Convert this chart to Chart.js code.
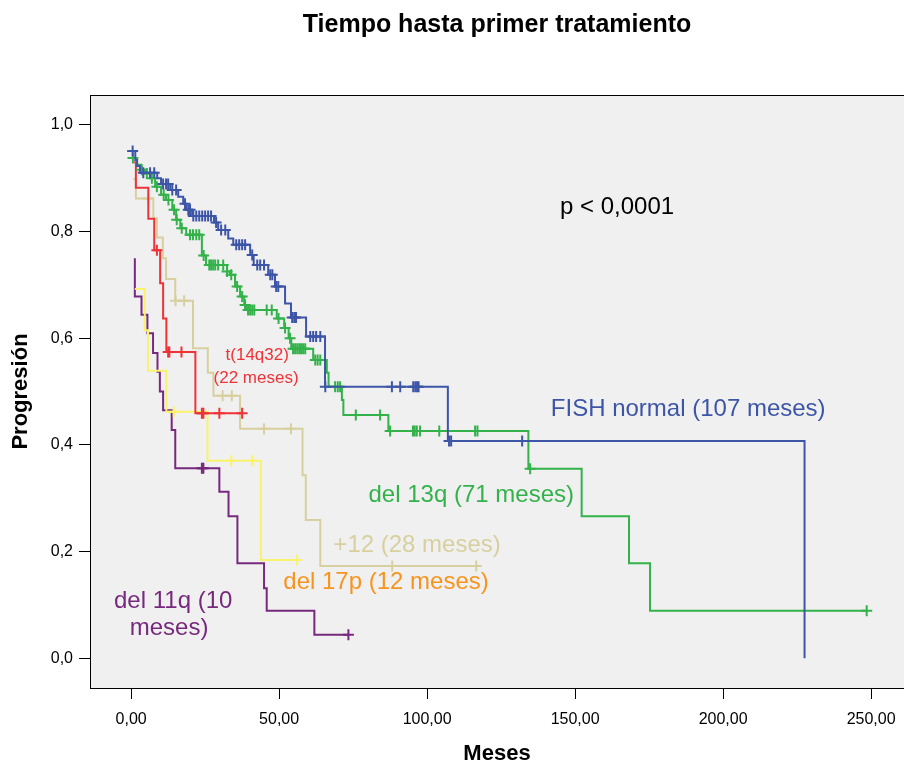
<!DOCTYPE html>
<html>
<head>
<meta charset="utf-8">
<style>
  html, body { margin: 0; padding: 0; background: #fff; }
  #wrap { width: 904px; height: 762px; }
</style>
<script src="https://cdn.jsdelivr.net/npm/chart.js@4/dist/chart.umd.min.js"></script>
</head>
<body>
<div id="wrap"><canvas id="km" width="904" height="762"></canvas></div>
<script>
// Kaplan-Meier curves (time in months, cumulative proportion)
const fishT = [0.5, 1.4, 2.0, 3.0, 8.8, 10.1, 13.2, 15.9, 17.6, 18.6, 20.6, 28.0, 29.4, 32.8, 34.5, 40.2, 41.4, 46.3, 48.6, 52.0, 54.0, 59.1, 65.5, 107.0, 227.5];
const fishS = [0.951, 0.934, 0.923, 0.910, 0.900, 0.889, 0.878, 0.865, 0.852, 0.841, 0.829, 0.817, 0.803, 0.787, 0.775, 0.756, 0.737, 0.719, 0.697, 0.665, 0.639, 0.603, 0.509, 0.407, 0.0];
const fishCens = [0.5, 4.1, 6.4, 7.8, 10.8, 11.8, 12.5, 13.9, 15.2, 18.2, 19.3, 19.9, 21.0, 22.0, 23.0, 24.0, 25.0, 26.0, 27.0, 28.7, 30.4, 31.8, 35.5, 36.5, 37.5, 38.5, 40.9, 42.6, 43.6, 44.9, 47.0, 47.7, 49.0, 49.7, 54.4, 55.1, 55.7, 60.5, 61.5, 62.5, 63.9, 65.6, 88.1, 90.9, 95.3, 96.0, 96.6, 97.1, 107.4, 108.1, 132.1];

const del13T = [0.6, 2.0, 3.4, 4.7, 6.4, 8.1, 10.1, 11.8, 13.9, 15.2, 16.6, 18.6, 23.9, 25.3, 32.4, 33.4, 35.1, 36.8, 38.2, 38.9, 49.2, 51.7, 53.2, 54.1, 61.5, 66.1, 66.7, 71.2, 71.7, 86.9, 134.2, 152.2, 168.2, 175.3, 248.5];
const del13S = [0.938, 0.925, 0.916, 0.909, 0.900, 0.884, 0.869, 0.859, 0.841, 0.822, 0.806, 0.794, 0.755, 0.737, 0.725, 0.719, 0.697, 0.678, 0.662, 0.653, 0.637, 0.619, 0.600, 0.580, 0.559, 0.535, 0.509, 0.484, 0.456, 0.426, 0.355, 0.266, 0.178, 0.089, 0.089];
const del13Cens = [0.6, 3.6, 5.3, 7.0, 8.7, 11.0, 12.6, 14.5, 15.4, 17.1, 19.9, 20.9, 22.0, 23.0, 24.5, 26.4, 27.0, 27.7, 28.4, 29.4, 31.1, 32.4, 33.8, 35.8, 37.5, 38.5, 39.5, 40.2, 40.9, 41.6, 45.8, 47.5, 49.8, 52.0, 53.7, 54.7, 55.4, 56.1, 56.8, 57.4, 58.1, 58.8, 62.2, 63.0, 63.9, 68.9, 69.8, 70.6, 75.9, 84.1, 87.5, 95.2, 95.8, 96.5, 97.6, 104.1, 116.2, 117.0, 134.8, 248.5];

const t14T = [1.0, 1.6, 5.8, 7.8, 9.8, 10.8, 11.9, 21.7, 37.5];
const t14S = [0.930, 0.882, 0.824, 0.765, 0.703, 0.637, 0.574, 0.459, 0.459];
const t14Cens = [8.7, 12.5, 12.9, 17.0, 23.9, 24.4, 29.8, 37.5];

const tri12T = [0.7, 1.6, 7.5, 8.7, 10.7, 11.8, 14.9, 20.9, 25.9, 27.8, 36.8, 57.9, 59.0, 63.9, 116.6];
const tri12S = [0.898, 0.862, 0.825, 0.789, 0.750, 0.711, 0.670, 0.581, 0.535, 0.492, 0.430, 0.343, 0.259, 0.173, 0.173];
const tri12Cens = [5.8, 15.0, 17.9, 30.9, 34.0, 44.9, 54.0, 88.2, 116.6];

const del17T = [1.25, 4.6, 5.7, 11.9, 25.8, 43.8, 56.0];
const del17S = [0.692, 0.615, 0.539, 0.462, 0.370, 0.184, 0.184];
const del17Cens = [14.4, 33.8, 41.0, 56.0];

const del11T = [1.25, 1.25, 3.5, 5.5, 7.4, 8.9, 9.7, 10.8, 13.7, 14.9, 29.8, 32.9, 35.9, 44.9, 45.8, 61.9, 73.4];
const del11S = [0.750, 0.678, 0.644, 0.609, 0.572, 0.537, 0.500, 0.465, 0.428, 0.356, 0.312, 0.266, 0.178, 0.131, 0.089, 0.044, 0.044];
const del11Cens = [23.9, 24.4, 73.4];

const xTicks = [0, 50, 100, 150, 200, 250];
const xTickLabels = ["0,00", "50,00", "100,00", "150,00", "200,00", "250,00"];
const yTicks = [0, 0.2, 0.4, 0.6, 0.8, 1.0];
const yTickLabels = ["0,0", "0,2", "0,4", "0,6", "0,8", "1,0"];

const chartTitle = "Tiempo hasta primer tratamiento";
const FONT = "'Liberation Sans', Arial, sans-serif";

function stepAt(T, S, t) {
  let v = S[0];
  for (let i = 0; i < T.length; i++) if (T[i] <= t) v = S[i];
  return v;
}

function curve(T, S, color) {
  return {
    data: T.map((t, i) => ({ x: t, y: S[i] })),
    borderColor: color, borderWidth: 2, stepped: 'before',
    pointRadius: 0, fill: false
  };
}

function censors(T, S, times, color) {
  return {
    data: times.map(t => ({ x: t, y: stepAt(T, S, t) })),
    showLine: false, pointStyle: 'cross', pointRadius: 5.5,
    pointBorderColor: color, pointBorderWidth: 2, borderColor: color
  };
}

const BLUE = "#3d55a6", GREEN = "#33b24a", RED = "#ee3338",
      TAN = "#d7d09e", YELLOW = "#f9f36b", PURPLE = "#77297d";

// text notes placed in data units
const notes = [
  { text: "p < 0,0001", x: 144.9, y: 0.846, color: "#000", size: 24, align: "left" },
  { text: "FISH normal (107 meses)", x: 188.2, y: 0.467, color: BLUE, size: 24 },
  { text: "t(14q32)", x: 42.6, y: 0.567, color: RED, size: 17 },
  { text: "(22 meses)", x: 42.2, y: 0.525, color: RED, size: 17 },
  { text: "del 13q (71 meses)", x: 114.9, y: 0.306, color: GREEN, size: 24 },
  { text: "+12 (28 meses)", x: 96.6, y: 0.212, color: TAN, size: 24 },
  { text: "del 17p (12 meses)", x: 86.1, y: 0.143, color: "#f7941e", size: 24 },
  { text: "del 11q (10", x: 14.2, y: 0.107, color: PURPLE, size: 24 },
  { text: "meses)", x: 12.8, y: 0.056, color: PURPLE, size: 24 }
];

const framePlugin = {
  id: 'frame',
  beforeDraw(chart) {
    const { ctx, chartArea: a } = chart;
    ctx.save();
    ctx.fillStyle = "#f0f0f0";
    ctx.fillRect(a.left, a.top, a.right - a.left, a.bottom - a.top);
    ctx.restore();
  },
  afterDraw(chart) {
    const { ctx, chartArea: a, scales } = chart;
    ctx.save();
    ctx.strokeStyle = "#000";
    ctx.lineWidth = 1;
    ctx.strokeRect(a.left + 0.5, a.top + 0.5, a.right - a.left, a.bottom - a.top);
    // title centred over the plot frame
    ctx.fillStyle = "#000";
    ctx.textAlign = "center";
    ctx.textBaseline = "middle";
    ctx.font = "bold 25px " + FONT;
    ctx.fillText(chartTitle, (a.left + a.right) / 2, 25);
    notes.forEach(n => {
      ctx.font = n.size + "px " + FONT;
      ctx.fillStyle = n.color;
      ctx.textAlign = n.align || "center";
      ctx.fillText(n.text, scales.x.getPixelForValue(n.x), scales.y.getPixelForValue(n.y));
    });
    ctx.restore();
  }
};

new Chart(document.getElementById("km"), {
  type: "line",
  data: {
    datasets: [
      curve(fishT, fishS, BLUE),
      censors(fishT, fishS, fishCens, BLUE),
      curve(del13T, del13S, GREEN),
      censors(del13T, del13S, del13Cens, GREEN),
      curve(t14T, t14S, RED),
      censors(t14T, t14S, t14Cens, RED),
      curve(del17T, del17S, YELLOW),
      censors(del17T, del17S, del17Cens, YELLOW),
      curve(tri12T, tri12S, TAN),
      censors(tri12T, tri12S, tri12Cens, TAN),
      curve(del11T, del11S, PURPLE),
      censors(del11T, del11S, del11Cens, PURPLE)
    ]
  },
  options: {
    responsive: false,
    animation: false,
    layout: { autoPadding: false, padding: { top: 95, right: 0, bottom: 0, left: 0 } },
    plugins: {
      legend: { display: false },
      tooltip: { enabled: false },
      title: { display: false }
    },
    scales: {
      x: {
        type: "linear",
        min: -13.9, max: 261.1,
        afterBuildTicks: s => { s.ticks = xTicks.map(v => ({ value: v })); },
        afterFit: s => { s.height = 74; s.paddingLeft = 0; s.paddingRight = 0; },
        ticks: {
          color: "#000", padding: 11,
          font: { family: FONT, size: 16 },
          callback: (v, i) => xTickLabels[i]
        },
        grid: { display: true, drawOnChartArea: false, drawTicks: true, tickLength: 11, color: "#000", lineWidth: 1 },
        border: { display: true, color: "#000", width: 1 },
        title: {
          display: true, text: "Meses", color: "#000",
          font: { family: FONT, size: 22, weight: "bold", lineHeight: 0.9 },
          padding: { top: 0, bottom: -2 }
        }
      },
      y: {
        type: "linear",
        min: -0.056, max: 1.056,
        afterBuildTicks: s => { s.ticks = yTicks.map(v => ({ value: v })); },
        afterFit: s => { s.width = 90; s.paddingTop = 0; s.paddingBottom = 0; },
        ticks: {
          color: "#000", padding: 6,
          font: { family: FONT, size: 16 },
          callback: (v, i) => yTickLabels[i]
        },
        grid: { display: true, drawOnChartArea: false, drawTicks: true, tickLength: 11, color: "#000", lineWidth: 1 },
        border: { display: true, color: "#000", width: 1 },
        title: {
          display: true, text: "Progresión", color: "#000",
          font: { family: FONT, size: 22, weight: "bold", lineHeight: 1 },
          padding: { top: 10, bottom: 0 }
        }
      }
    }
  },
  plugins: [framePlugin]
});
</script>
</body>
</html>
